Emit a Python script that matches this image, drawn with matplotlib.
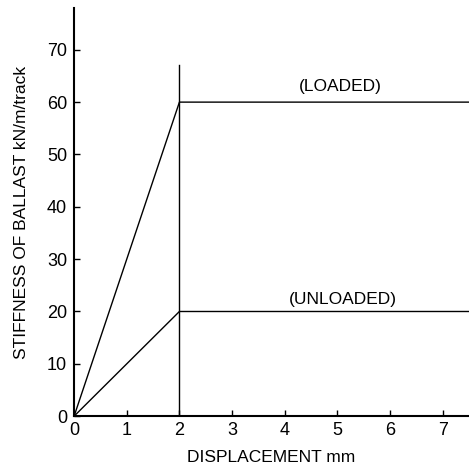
import matplotlib
matplotlib.use("Agg")
import matplotlib.pyplot as plt

plt.rcParams['font.family'] = ['Liberation Sans', 'DejaVu Sans']

loaded_x = [0, 2, 7.5]
loaded_y = [0, 60, 60]
unloaded_x = [0, 2, 7.5]
unloaded_y = [0, 20, 20]
vline_x = 2
vline_top = 67
xticks = [0, 1, 2, 3, 4, 5, 6, 7]
yticks = [0, 10, 20, 30, 40, 50, 60, 70]

fig = plt.figure(figsize=(4.69, 4.65), dpi=100)
ax = fig.add_axes([0.158, 0.105, 0.842, 0.878])

ax.plot(loaded_x, loaded_y, color='black', lw=1.0)
ax.plot(unloaded_x, unloaded_y, color='black', lw=1.0)
ax.plot([vline_x, vline_x], [0, vline_top], color='black', lw=1.0)

ax.text(5.05, 63.0, '(LOADED)', ha='center', va='center', fontsize=12.5)
ax.text(5.1, 22.2, '(UNLOADED)', ha='center', va='center', fontsize=12.5)

ax.set_xlim(0, 7.5)
ax.set_ylim(0, 78)
ax.set_xticks(xticks)
ax.set_yticks(yticks)
ax.tick_params(direction='in', length=4, width=1, labelsize=13)
ax.tick_params(axis='y', pad=5)
ax.tick_params(axis='x', pad=4)
for s in ['top', 'right']:
    ax.spines[s].set_visible(False)
for s in ['left', 'bottom']:
    ax.spines[s].set_linewidth(1.5)

ax.set_xlabel('DISPLACEMENT mm', fontsize=12.5, labelpad=8)
ax.set_ylabel('STIFFNESS OF BALLAST kN/m/track', fontsize=12.5, labelpad=13)

fig.savefig('out.png', dpi=100)
